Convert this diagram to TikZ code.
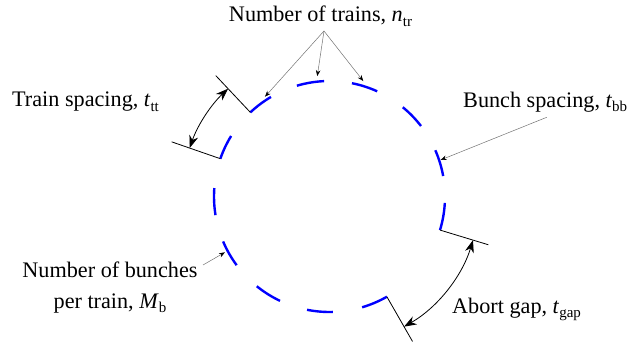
\documentclass[tikz,border=0pt]{standalone}
\usepackage{fontspec}
\setmainfont{Liberation Serif}
\usetikzlibrary{arrows.meta,calc}
\newcommand\lowsub[1]{\raisebox{-0.22em}{\fontsize{15}{15}\selectfont #1}}
\begin{document}
\begin{tikzpicture}[x=1pt,y=1pt,
  lbl/.style={inner sep=0pt,font=\fontsize{22.2}{31}\selectfont},
  bunch/.style={draw=blue,line width=2.4pt},
  radline/.style={draw=black,line width=0.8pt},
  gaparrow/.style={draw=black,line width=0.8pt,{Stealth[length=12.5pt,width=9pt,inset=4pt]}-{Stealth[length=12.5pt,width=9pt,inset=4pt]}},
  leader/.style={draw=black!55,line width=0.5pt,-{Stealth[length=6pt,width=4.5pt,black]}}]
\useasboundingbox (0,0) rectangle (638,349);
\coordinate (C) at (329.5,152.5);
% bunches (blue dashes)
\foreach \a/\b in {133.25/120.45,106.4/92.7,78.8/65.6,50.6/37.6,23.6/10.2,-3.2/-16.9,
                   -60.2/-73.6,-88.3/-101.2,-115.35/-129,-143.5/-157.1,-170.7/-184.2,160.9/148.4}
  \draw[bunch] ($(C)+(\a:115.5)$) arc[start angle=\a,end angle=\b,radius=115.5];
% radial marker lines
\coordinate (ttA1) at ($(C)+(160.9:115.5)$);
\coordinate (ttA2) at ($(C)+(160.9:167)$);
\coordinate (ttB1) at ($(C)+(133.25:115.5)$);
\coordinate (ttB2) at ($(C)+(133.25:166)$);
\coordinate (agA1) at ($(C)+(-16.9:115.5)$);
\coordinate (agA2) at ($(C)+(-16.9:166)$);
\coordinate (agB1) at ($(C)+(-60.2:115.5)$);
\coordinate (agB2) at ($(C)+(-60.2:167)$);
\draw[radline] (ttA1) -- (ttA2);
\draw[radline] (ttB1) -- (ttB2);
\draw[radline] (agA1) -- (agA2);
\draw[radline] (agB1) -- (agB2);
% spacing arrows
\coordinate (ttArc) at ($(C)+(160.9:148)$);
\draw[gaparrow] (ttArc) arc[start angle=160.9,end angle=133.25,radius=148];
\coordinate (agArc) at ($(C)+(-16.9:150)$);
\draw[gaparrow] (agArc) arc[start angle=-16.9,end angle=-60.2,radius=150];
% labels
\node[lbl,anchor=base] (ntr) at (320.5,327) {Number of trains, \textit{n}\lowsub{tr}};
\node[lbl,anchor=base west] (ttt) at (12,242.3) {Train spacing, \textit{t}\lowsub{tt}};
\node[lbl,anchor=base west] (tbb) at (463,242) {Bunch spacing, \textit{t}\lowsub{bb}};
\node[lbl,anchor=base west] (tgap) at (452,36) {Abort gap, \textit{t}\lowsub{gap}};
\node[lbl,align=center,anchor=base] (mb) at (110,41) {Number of bunches\\per train, \textit{M}\lowsub{b}};
% leaders
\coordinate (ntrfoot) at (324,318);
\coordinate (trA) at ($(C)+(122.9:118.8)$);
\coordinate (trB) at ($(C)+(95.8:121)$);
\coordinate (trC) at ($(C)+(73.7:120.3)$);
\draw[leader] (ntrfoot) -- (trA);
\draw[leader] (ntrfoot) -- (trB);
\draw[leader] (ntrfoot) -- (trC);
\coordinate (bbfoot) at (546.7,231.7);
\coordinate (bbtip) at ($(C)+(18.2:117)$);
\draw[leader] (bbfoot) -- (bbtip);
\coordinate (mbfoot) at (203,84);
\coordinate (mbtip) at ($(C)+(-151.9:118.5)$);
\draw[leader] (mbfoot) -- (mbtip);
\end{tikzpicture}
\end{document}
